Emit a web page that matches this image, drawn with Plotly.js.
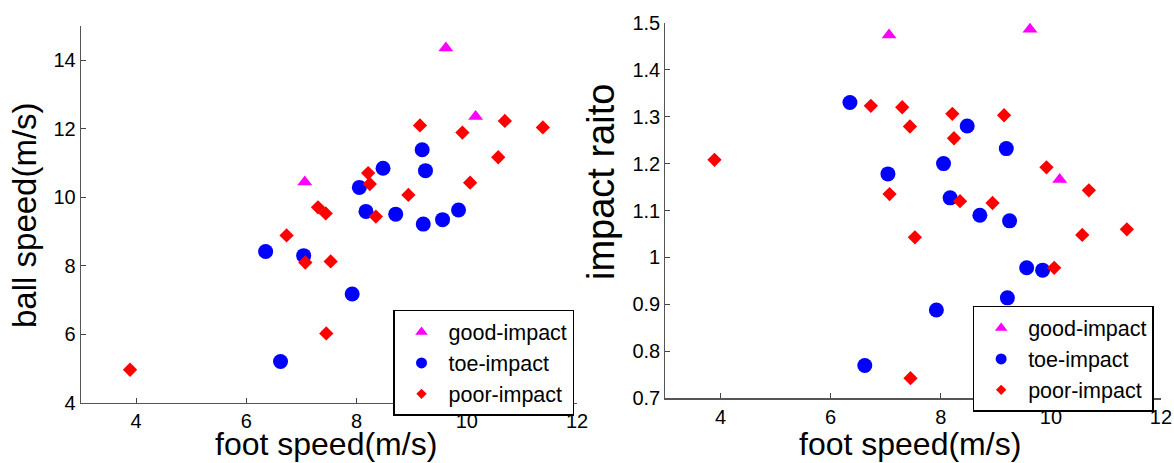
<!DOCTYPE html>
<html>
<head>
<meta charset="utf-8">
<script src="https://cdn.plot.ly/plotly-3.0.1.min.js"></script>
<style>html,body{margin:0;padding:0;background:#fff;}#chart{width:1174px;height:463px;}</style>
</head>
<body>
<div id="chart"></div>
<script>
// ---- data ----
var seriesNames = ['good-impact', 'toe-impact', 'poor-impact'];

var goodFoot  = [9.62, 10.16, 7.06];
var goodBall  = [14.36, 12.36, 10.45];
var goodRatio = [1.486, 1.166, 1.474];

var toeFoot  = [9.19, 9.25, 8.48, 8.05, 8.17, 8.71, 9.21, 9.56, 9.85, 6.35, 7.04, 7.92, 6.62];
var toeBall  = [11.39, 10.78, 10.85, 10.29, 9.59, 9.51, 9.22, 9.35, 9.63, 8.42, 8.30, 7.18, 5.21];
var toeRatio = [1.232, 1.078, 1.280, 1.200, 1.127, 1.090, 0.914, 0.978, 0.973, 1.330, 1.178, 0.888, 0.770];

var poorFoot  = [3.89, 6.73, 7.07, 7.53, 7.45, 7.30, 7.44, 8.21, 8.24, 8.35, 8.94, 9.15, 9.92, 10.06, 10.57, 10.69, 11.38];
var poorBall  = [4.97, 8.89, 8.10, 8.13, 6.03, 9.71, 9.53, 10.71, 10.39, 9.44, 10.07, 12.10, 11.89, 10.43, 11.17, 12.23, 12.04];
var poorRatio = [1.208, 1.323, 1.135, 1.043, 0.743, 1.320, 1.279, 1.306, 1.254, 1.120, 1.116, 1.303, 1.192, 0.978, 1.048, 1.143, 1.060];

var xTicks = [4, 6, 8, 10, 12];
var ballTicks = [4, 6, 8, 10, 12, 14];
var ratioTicks = [0.7, 0.8, 0.9, 1.0, 1.1, 1.2, 1.3, 1.4, 1.5];
var ratioTickText = ['0.7', '0.8', '0.9', '1', '1.1', '1.2', '1.3', '1.4', '1.5'];

var xTitle = 'foot speed(m/s)';
var yTitleLeft = 'ball speed(m/s)';
var yTitleRight = 'impact raito';

// ---- styles ----
var FONT = 'Liberation Sans, Arial, sans-serif';
var styles = [
  {symbol: 'triangle-up', color: '#ff00ff', size: 13, lsize: 11},
  {symbol: 'circle', color: '#0000ff', size: 15, lsize: 11},
  {symbol: 'diamond', color: '#ff0000', size: 11, lsize: 8}
];

var traces = [];
function addSet(xs, ys, xa, ya, legendId) {
  for (var i = 0; i < 3; i++) {
    traces.push({
      type: 'scatter', mode: 'markers', x: xs[i], y: ys[i], xaxis: xa, yaxis: ya,
      name: seriesNames[i], showlegend: false, hoverinfo: 'x+y',
      marker: {symbol: styles[i].symbol, color: styles[i].color, size: styles[i].size, line: {width: 0}}
    });
  }
  for (var j = 0; j < 3; j++) {
    traces.push({
      type: 'scatter', mode: 'markers', x: [null], y: [null], xaxis: xa, yaxis: ya,
      name: seriesNames[j], showlegend: true, legend: legendId,
      marker: {symbol: styles[j].symbol, color: styles[j].color, size: styles[j].lsize, line: {width: 0}}
    });
  }
}
addSet([goodFoot, toeFoot, poorFoot], [goodBall, toeBall, poorBall], 'x', 'y', 'legend');
addSet([goodFoot, toeFoot, poorFoot], [goodRatio, toeRatio, poorRatio], 'x2', 'y2', 'legend2');

function xAxis(domain, anchor) {
  return {
    domain: domain, anchor: anchor, range: [3, 12], tickvals: xTicks,
    ticks: 'inside', ticklen: 5, tickcolor: '#444', tickwidth: 1,
    showline: true, linecolor: '#555', linewidth: 1.3, mirror: false,
    showgrid: false, zeroline: false,
    tickfont: {family: FONT, size: 20, color: '#000'}
  };
}
function yAxis(domain, anchor, range, tv, tt) {
  var a = {
    domain: domain, anchor: anchor, range: range, tickvals: tv,
    ticks: 'inside', ticklen: 5, tickcolor: '#444', tickwidth: 1,
    showline: true, linecolor: '#555', linewidth: 1.3, mirror: false,
    showgrid: false, zeroline: false,
    tickfont: {family: FONT, size: 20, color: '#000'}
  };
  if (tt) a.ticktext = tt;
  return a;
}

var legendStyle = function (x, y) {
  return {
    x: x, y: y, xanchor: 'left', yanchor: 'top', xref: 'paper', yref: 'paper',
    bgcolor: '#ffffff', bordercolor: '#000', borderwidth: 1.5,
    font: {family: FONT, size: 21.5, color: '#000'}, itemwidth: 44
  };
};

function titleAnn(text, x, y, angle, size) {
  return {
    text: text, x: x, y: y, xref: 'paper', yref: 'paper', showarrow: false,
    xanchor: 'center', yanchor: 'middle', textangle: angle,
    font: {family: FONT, size: size, color: '#000'}
  };
}

var layout = {
  width: 1174, height: 463,
  margin: {l: 81, r: 13, t: 22, b: 60},
  paper_bgcolor: '#fff', plot_bgcolor: '#fff',
  showlegend: true,
  xaxis: xAxis([0, 0.4593], 'y'),
  yaxis: yAxis([0, 0.9895], 'x', [4, 15], ballTicks, null),
  xaxis2: xAxis([0.5412, 1], 'y2'),
  yaxis2: yAxis([0.0123, 0.998], 'x2', [0.7, 1.5], ratioTicks, ratioTickText),
  legend: legendStyle(0.2889, 0.2441),
  legend2: legendStyle(0.8256, 0.2546),
  annotations: [
    titleAnn(xTitle, 0.2268, -0.108, 0, 32),
    titleAnn(xTitle, 0.7676, -0.108, 0, 32),
    titleAnn(yTitleLeft, -0.0528, 0.4934, -90, 33),
    titleAnn(yTitleRight, 0.4815, 0.58, -90, 38)
  ]
};

Plotly.newPlot('chart', traces, layout, {displayModeBar: false, staticPlot: true});
</script>
</body>
</html>
